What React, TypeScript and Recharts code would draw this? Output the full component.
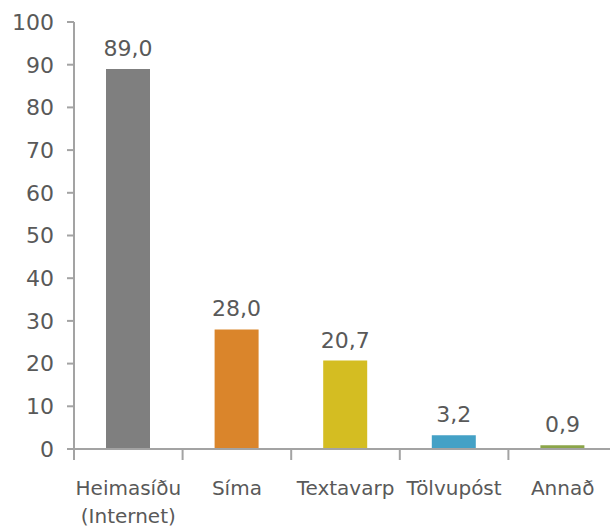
import { BarChart, Bar, XAxis, YAxis, Cell, LabelList } from "recharts";

const categories = ["Heimasíðu\n(Internet)", "Síma", "Textavarp", "Tölvupóst", "Annað"];
const values = [89.0, 28.0, 20.7, 3.2, 0.9];
const colors = ["#7f7f7f", "#da852b", "#d4bd22", "#44a1c6", "#8ba548"];
const yTicks = [0, 10, 20, 30, 40, 50, 60, 70, 80, 90, 100];

const data = categories.map((name, i) => ({ name, value: values[i], color: colors[i] }));

const FONT = "'DejaVu Sans', sans-serif";
const TEXT = "#595959";
const AXIS = "#a3a3a3";

const W = 630;
const H = 529;
const LEFT = 74;
const RIGHT = 13;
const BAND = (W - LEFT - RIGHT) / categories.length;

const XTick = ({ x, y, payload }: any) => {
  const lines = String(payload.value).split("\n");
  return (
    <g>
      <line x1={x - BAND / 2} x2={x - BAND / 2} y1={y} y2={y + 11} stroke={AXIS} strokeWidth={2} />
      <text x={x} y={y + 46} textAnchor="middle" fill={TEXT} fontSize={20} fontFamily={FONT}>
        {lines.map((l, i) => (
          <tspan key={i} x={x} dy={i === 0 ? 0 : 28}>
            {l}
          </tspan>
        ))}
      </text>
    </g>
  );
};

export default function App() {
  return (
    <div style={{ position: "absolute", left: 0, top: 0, width: W, height: H, background: "#fff" }}>
      <BarChart width={W} height={H} data={data} margin={{ top: 22, right: RIGHT, bottom: 0, left: 0 }}>
        <YAxis
          domain={[0, 100]}
          ticks={yTicks}
          width={LEFT}
          interval={0}
          axisLine={{ stroke: AXIS, strokeWidth: 2 }}
          tickLine={{ stroke: AXIS, strokeWidth: 2 }}
          tickSize={7}
          tickMargin={13}
          tick={{ fill: TEXT, fontSize: 22, fontFamily: FONT }}
        />
        <XAxis
          dataKey="name"
          height={80}
          interval={0}
          axisLine={{ stroke: AXIS, strokeWidth: 2 }}
          tickLine={false}
          tickSize={0}
          tickMargin={0}
          tick={<XTick />}
        />
        <Bar dataKey="value" barSize={44} isAnimationActive={false}>
          {data.map((d, i) => (
            <Cell key={i} fill={d.color} />
          ))}
          <LabelList
            dataKey="value"
            position="top"
            offset={13}
            formatter={(v: any) => Number(v).toFixed(1).replace(".", ",")}
            style={{ fill: TEXT, fontSize: 22, fontFamily: FONT }}
          />
        </Bar>
      </BarChart>
    </div>
  );
}
